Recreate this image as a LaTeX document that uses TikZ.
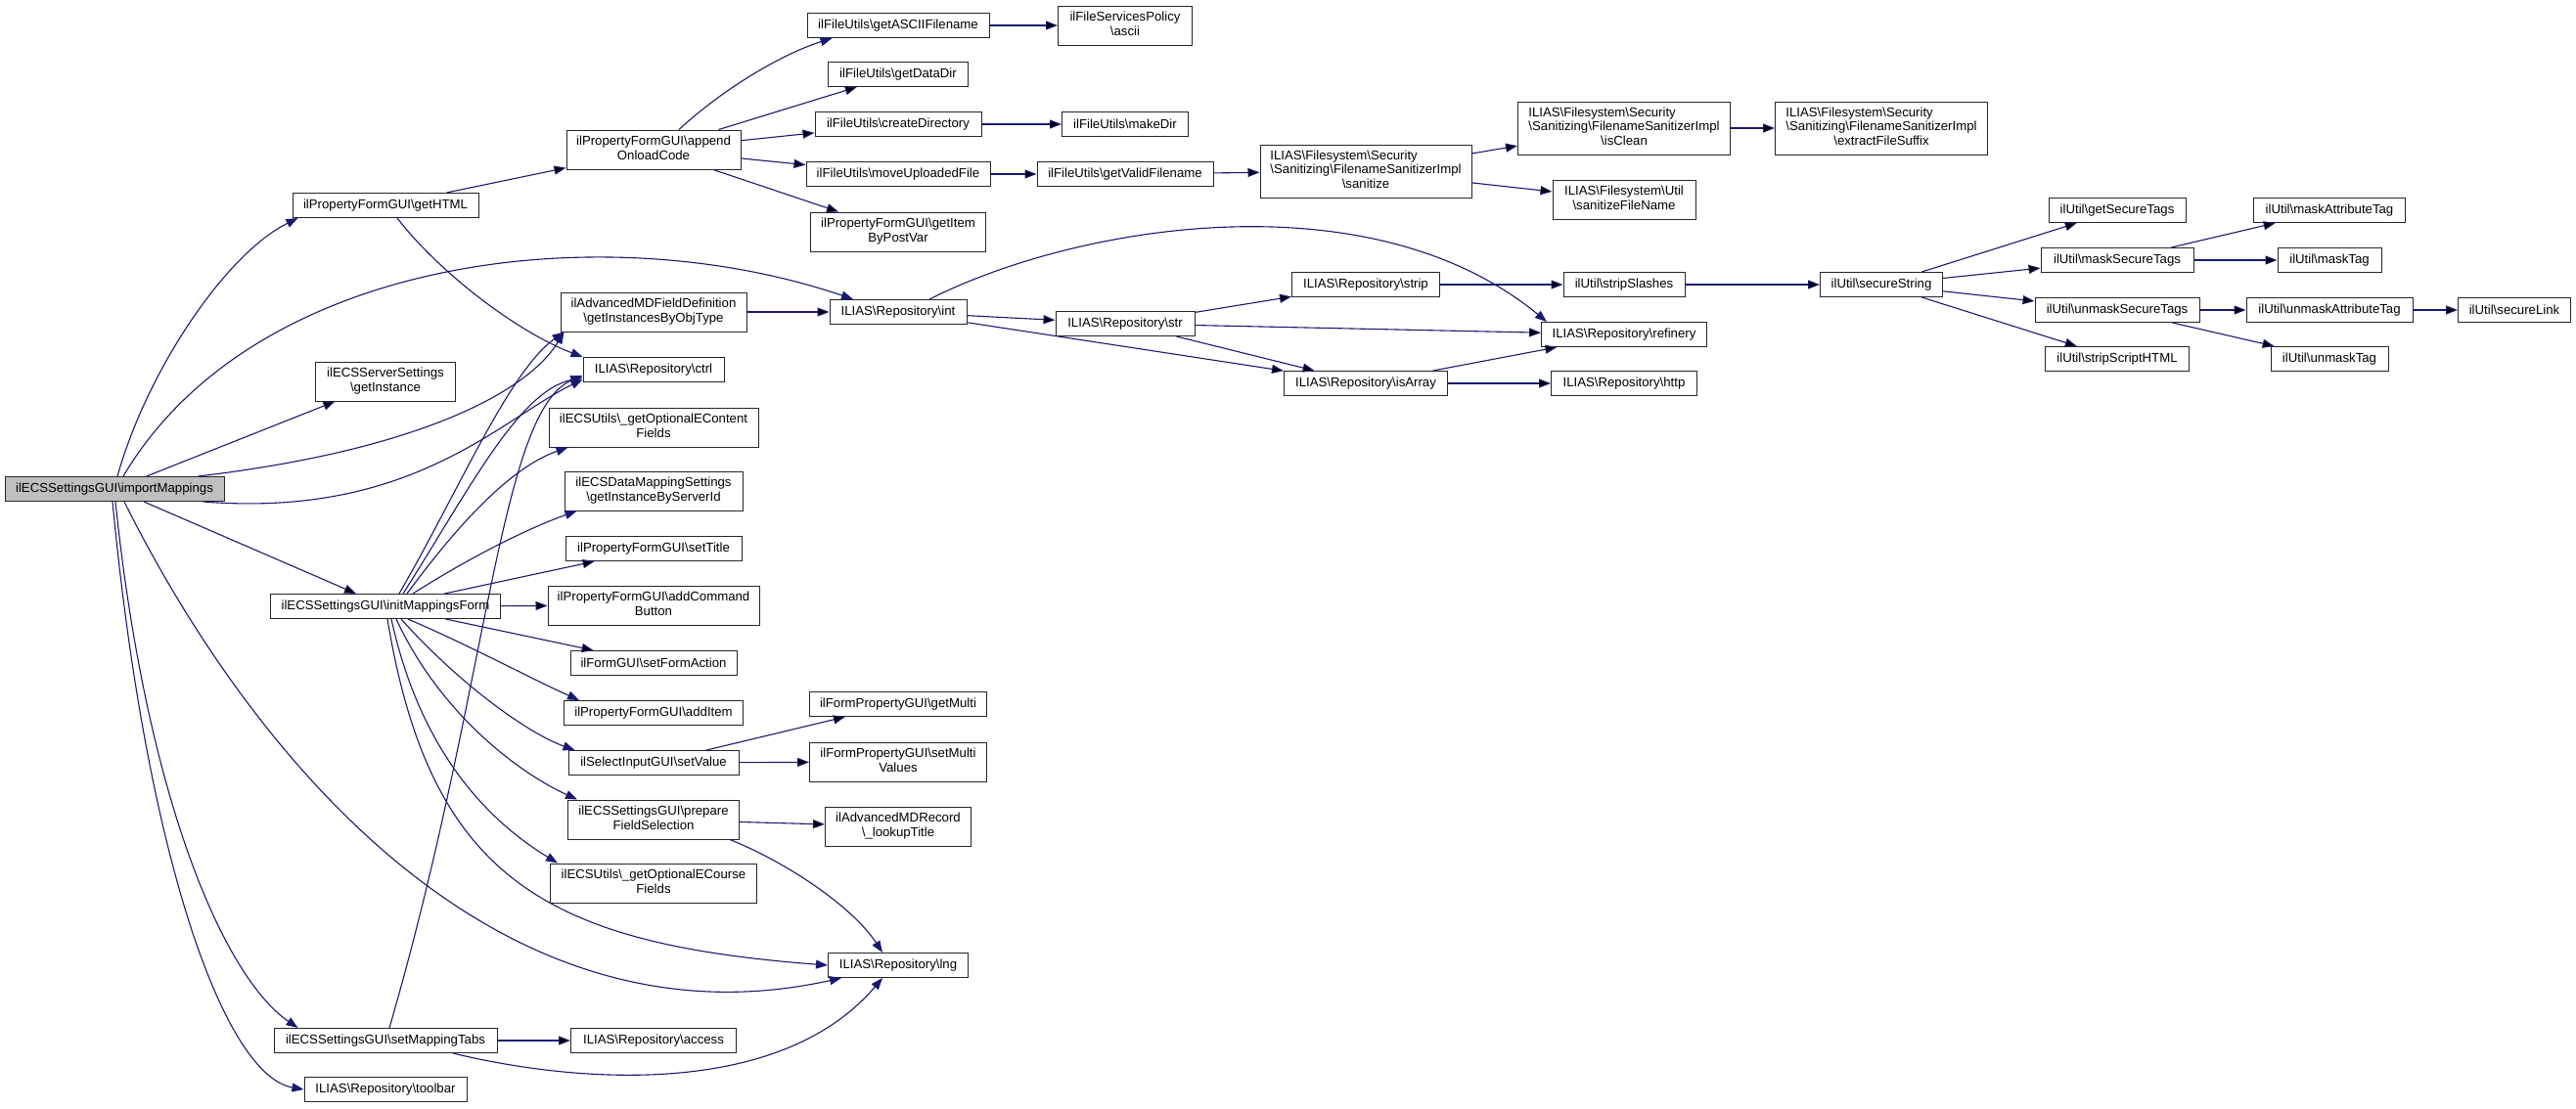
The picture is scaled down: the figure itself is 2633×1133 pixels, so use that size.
\documentclass[tikz,border=0pt]{standalone}
\usepackage{fontspec}
\setmainfont{Liberation Sans}
\usetikzlibrary{arrows.meta}
\definecolor{edgeblue}{HTML}{191970}
\newcommand{\bs}{\textbackslash}
\newcommand{\fnlines}[2]{\begin{tabular}{@{}l@{}}#1\\\multicolumn{1}{@{}c@{}}{#2}\end{tabular}}

\begin{document}
\begin{tikzpicture}[x=1pt, y=-1pt,
    fn/.style = {draw=black!85, line width=1pt, fill=white, inner xsep=2pt, inner ysep=0pt, minimum height=25pt, font=\fontsize{13.2}{14.5}\selectfont},
    two/.style = {minimum height=40pt},
    three/.style = {minimum height=54pt},
    root/.style = {fill=black!25},
    call/.style = {draw=edgeblue, line width=1.1pt, -{Triangle[length=12pt,width=9pt]}}]
	\useasboundingbox (0,0) rectangle (2633,1133);
	% column 1
	\node[fn, root, minimum width=224pt] (imp) at (117,500) {ilECSSettingsGUI\bs importMappings};
	% column 2
	\node[fn, minimum width=190pt] (gethtml) at (394,210) {ilPropertyFormGUI\bs getHTML};
	\node[fn, two, minimum width=143pt] (srvinst) at (394,390) {\fnlines{ilECSServerSettings}{\bs getInstance}};
	\node[fn, minimum width=235pt] (initform) at (394,620) {ilECSSettingsGUI\bs initMappingsForm};
	\node[fn, minimum width=228pt] (tabs) at (394,1064) {ilECSSettingsGUI\bs setMappingTabs};
	\node[fn, minimum width=166pt] (toolbar) at (394,1114) {ILIAS\bs Repository\bs toolbar};
	% column 3
	\node[fn, two, minimum width=178pt] (onload) at (668,153) {\fnlines{ilPropertyFormGUI\bs append}{OnloadCode}};
	\node[fn, two, minimum width=190pt] (advdef) at (668,319) {\fnlines{ilAdvancedMDFieldDefinition}{\bs getInstancesByObjType}};
	\node[fn, minimum width=144pt] (ctrl) at (668,378) {ILIAS\bs Repository\bs ctrl};
	\node[fn, two, minimum width=214pt] (econtent) at (668,437) {\fnlines{ilECSUtils\bs\_getOptionalEContent}{Fields}};
	\node[fn, two, minimum width=182pt] (bysrv) at (668,502) {\fnlines{ilECSDataMappingSettings}{\bs getInstanceByServerId}};
	\node[fn, minimum width=180pt] (settitle) at (668,561) {ilPropertyFormGUI\bs setTitle};
	\node[fn, two, minimum width=216pt] (addcmd) at (668,619) {\fnlines{ilPropertyFormGUI\bs addCommand}{Button}};
	\node[fn, minimum width=170pt] (formact) at (668,678) {ilFormGUI\bs setFormAction};
	\node[fn, minimum width=183pt] (additem) at (668,729) {ilPropertyFormGUI\bs addItem};
	\node[fn, minimum width=174pt] (setval) at (668,780) {ilSelectInputGUI\bs setValue};
	\node[fn, two, minimum width=175pt] (prepare) at (668,838) {\fnlines{ilECSSettingsGUI\bs prepare}{FieldSelection}};
	\node[fn, two, minimum width=211pt] (ecourse) at (668,903) {\fnlines{ilECSUtils\bs\_getOptionalECourse}{Fields}};
	\node[fn, minimum width=169pt] (access) at (668,1064) {ILIAS\bs Repository\bs access};
	% column 4
	\node[fn, minimum width=186pt] (asciiname) at (918,26) {ilFileUtils\bs getASCIIFilename};
	\node[fn, minimum width=143pt] (datadir) at (918,76) {ilFileUtils\bs getDataDir};
	\node[fn, minimum width=170pt] (mkdirs) at (918,127) {ilFileUtils\bs createDirectory};
	\node[fn, minimum width=188pt] (upload) at (918,178) {ilFileUtils\bs moveUploadedFile};
	\node[fn, two, minimum width=179pt] (postvar) at (918,237) {\fnlines{ilPropertyFormGUI\bs getItem}{ByPostVar}};
	\node[fn, minimum width=140pt] (int) at (918,319) {ILIAS\bs Repository\bs int};
	\node[fn, minimum width=181pt] (getmulti) at (918,720) {ilFormPropertyGUI\bs getMulti};
	\node[fn, two, minimum width=181pt] (multival) at (918,779) {\fnlines{ilFormPropertyGUI\bs setMulti}{Values}};
	\node[fn, two, minimum width=149pt] (lookup) at (918,845) {\fnlines{ilAdvancedMDRecord}{\bs\_lookupTitle}};
	\node[fn, minimum width=143pt] (lng) at (918,987) {ILIAS\bs Repository\bs lng};
	% column 5
	\node[fn, two, minimum width=137pt] (ascii) at (1150,26) {\fnlines{ilFileServicesPolicy}{\bs ascii}};
	\node[fn, minimum width=129pt] (mkdir) at (1150,127) {ilFileUtils\bs makeDir};
	\node[fn, minimum width=180pt] (validname) at (1150,178) {ilFileUtils\bs getValidFilename};
	\node[fn, minimum width=142pt] (str) at (1150,331) {ILIAS\bs Repository\bs str};
	% column 6
	\node[fn, three, minimum width=216pt] (sanitize) at (1396,175) {\fnlines{ILIAS\bs Filesystem\bs Security\\\bs Sanitizing\bs FilenameSanitizerImpl}{\bs sanitize}};
	\node[fn, minimum width=151pt] (strip) at (1396,291) {ILIAS\bs Repository\bs strip};
	\node[fn, minimum width=167pt] (isarray) at (1396,392) {ILIAS\bs Repository\bs isArray};
	% column 7
	\node[fn, three, minimum width=217pt] (isclean) at (1660,131) {\fnlines{ILIAS\bs Filesystem\bs Security\\\bs Sanitizing\bs FilenameSanitizerImpl}{\bs isClean}};
	\node[fn, two, minimum width=146pt] (fsname) at (1660,204) {\fnlines{ILIAS\bs Filesystem\bs Util}{\bs sanitizeFileName}};
	\node[fn, minimum width=124pt] (slashes) at (1660,291) {ilUtil\bs stripSlashes};
	\node[fn, minimum width=169pt] (refinery) at (1660,342) {ILIAS\bs Repository\bs refinery};
	\node[fn, minimum width=149pt] (http) at (1660,392) {ILIAS\bs Repository\bs http};
	% column 8
	\node[fn, three, minimum width=217pt] (suffix) at (1923,131) {\fnlines{ILIAS\bs Filesystem\bs Security\\\bs Sanitizing\bs FilenameSanitizerImpl}{\bs extractFileSuffix}};
	\node[fn, minimum width=125pt] (securestr) at (1923,291) {ilUtil\bs secureString};
	% column 9
	\node[fn, minimum width=140pt] (sectags) at (2164,215) {ilUtil\bs getSecureTags};
	\node[fn, minimum width=156pt] (masktags) at (2164,266) {ilUtil\bs maskSecureTags};
	\node[fn, minimum width=168pt] (unmasktags) at (2164,317) {ilUtil\bs unmaskSecureTags};
	\node[fn, minimum width=147pt] (scripthtml) at (2164,367) {ilUtil\bs stripScriptHTML};
	% column 10 and 11
	\node[fn, minimum width=155pt] (maskattr) at (2381,215) {ilUtil\bs maskAttributeTag};
	\node[fn, minimum width=106pt] (masktag) at (2381,266) {ilUtil\bs maskTag};
	\node[fn, minimum width=170pt] (unmaskattr) at (2381,317) {ilUtil\bs unmaskAttributeTag};
	\node[fn, minimum width=120pt] (unmasktag) at (2381,367) {ilUtil\bs unmaskTag};
	\node[fn, minimum width=115pt] (securelink) at (2570,317) {ilUtil\bs secureLink};
	% straight calls
	\path[call]
		(imp) edge (srvinst) (imp) edge (initform)
		(gethtml) edge (onload)
		(onload) edge (datadir) (onload) edge (mkdirs)
		(onload) edge (upload) (onload) edge (postvar)
		(asciiname) edge (ascii) (mkdirs) edge (mkdir)
		(upload) edge (validname) (validname) edge (sanitize)
		(sanitize) edge (isclean) (sanitize) edge (fsname) (isclean) edge (suffix)
		(advdef) edge (int) (int) edge (str) (int) edge (isarray)
		(str) edge (strip) (str) edge (refinery) (str) edge (isarray)
		(isarray) edge (refinery) (isarray) edge (http)
		(strip) edge (slashes) (slashes) edge (securestr)
		(securestr) edge (sectags) (securestr) edge (masktags)
		(securestr) edge (unmasktags) (securestr) edge (scripthtml)
		(masktags) edge (maskattr) (masktags) edge (masktag)
		(unmasktags) edge (unmaskattr) (unmasktags) edge (unmasktag)
		(unmaskattr) edge (securelink)
		(initform) edge (settitle) (initform) edge (addcmd) (initform) edge (formact)
		(setval) edge (getmulti) (setval) edge (multival) (prepare) edge (lookup)
		(tabs) edge (access);
	% curved calls
	\draw[call] ([xshift=3]imp.north) .. controls (150,380) and (230,260) .. ([xshift=6]gethtml.south west);
	\draw[call] ([xshift=9]imp.north) .. controls (260,260) and (620,220) .. ([xshift=-46]int.north);
	\draw[call] ([xshift=-27]imp.north east) .. controls (430,460) and (540,400) .. ([xshift=4]advdef.south west);
	\draw[call] ([xshift=-22]imp.south east) .. controls (420,530) and (510,430) .. ([yshift=-10]ctrl.west);
	\draw[call] ([xshift=10]imp.south) .. controls (250,760) and (500,1080) .. ([xshift=14]lng.south west);
	\draw[call] ([xshift=1]imp.south) .. controls (150,820) and (230,1000) .. ([xshift=25]tabs.north west);
	\draw[call] ([xshift=-2]imp.south) .. controls (150,880) and (230,1100) .. (toolbar.west);
	\draw[call] ([xshift=12]gethtml.south) .. controls (450,280) and (530,340) .. (ctrl.north west);
	\draw[call] ([xshift=26]onload.north) .. controls (740,90) and (800,55) .. ([xshift=26]asciiname.south west);
	\draw[call] ([xshift=32]int.north) .. controls (1100,230) and (1400,180) .. ([xshift=6]refinery.north west);
	\draw[call] ([xshift=14]initform.north) .. controls (470,500) and (520,380) .. ([xshift=4]advdef.south west);
	\draw[call] ([xshift=18]initform.north) .. controls (480,500) and (530,400) .. ([yshift=-8]ctrl.west);
	\draw[call] ([xshift=22]initform.north) .. controls (480,520) and (530,475) .. ([xshift=20]econtent.south west);
	\draw[call] ([xshift=28]initform.north) .. controls (480,570) and (540,540) .. ([xshift=13]bysrv.south west);
	\draw[call] ([xshift=23]initform.south) .. controls (480,660) and (545,695) .. ([xshift=16]additem.north west);
	\draw[call] ([xshift=16]initform.south) .. controls (470,700) and (540,750) .. ([xshift=7]setval.north west);
	\draw[call] ([xshift=11]initform.south) .. controls (450,730) and (530,790) .. ([xshift=10]prepare.north west);
	\draw[call] ([xshift=6]initform.south) .. controls (430,770) and (500,840) .. ([xshift=8]ecourse.north west);
	\draw[call] ([xshift=2]initform.south) .. controls (440,900) and (560,965) .. (lng.west);
	\draw[call] ([xshift=78]prepare.south) .. controls (800,880) and (870,925) .. ([xshift=-16]lng.north);
	\draw[call] ([xshift=69]tabs.south) .. controls (600,1110) and (800,1120) .. ([xshift=-16]lng.south);
	\draw[call] ([xshift=4]tabs.north) .. controls (500,700) and (510,420) .. ([yshift=-6]ctrl.west);
\end{tikzpicture}
\end{document}
